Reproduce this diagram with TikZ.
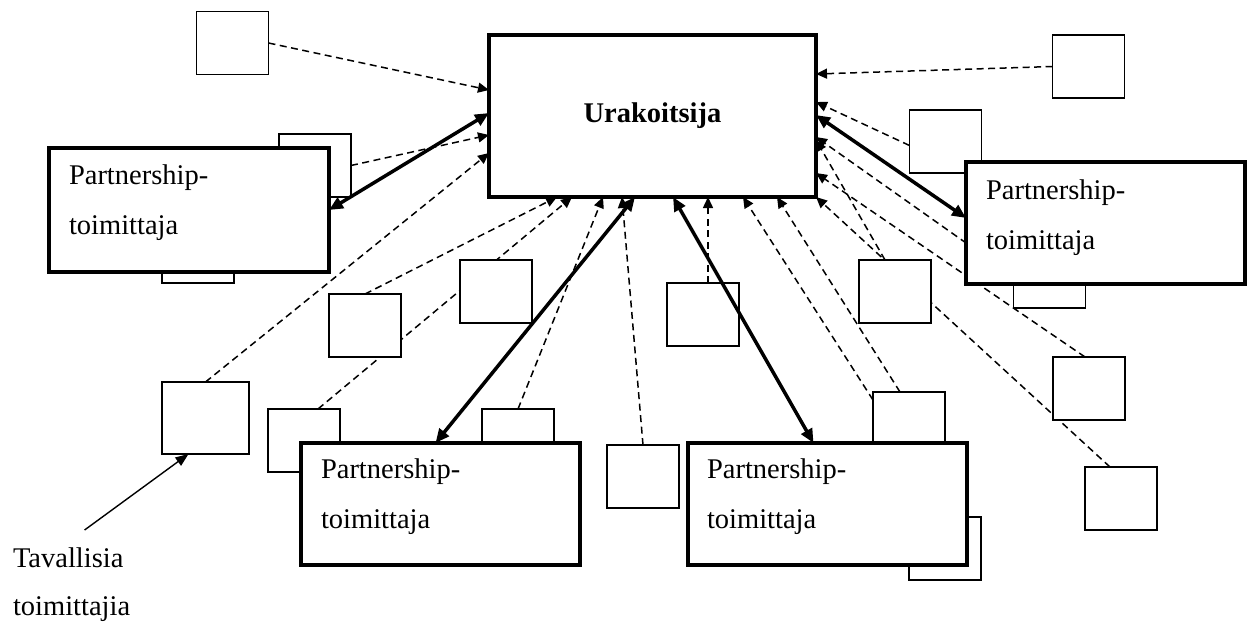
\documentclass[tikz,border=0pt]{standalone}
\usepackage{fontspec}
\setmainfont{Liberation Serif}
\usetikzlibrary{arrows.meta}
\pgfdeclarelayer{lines}
\pgfsetlayers{lines,main}
\begin{document}
\begin{tikzpicture}[x=1pt,y=-1pt,
  every node/.style={inner sep=0pt, outer sep=0pt},
  sbox/.style={draw, fill=white, line width=1.7pt, minimum width=72pt, minimum height=63pt},
  pbox/.style={draw, fill=white, line width=4.5pt, minimum width=279pt, minimum height=122pt},
  mainbox/.style={draw, fill=white, line width=4.2pt, minimum width=327pt, minimum height=162pt,
    font=\fontsize{28.5}{34}\selectfont\bfseries},
  ptext/.style={anchor=north west, align=left, font=\fontsize{28.5}{50}\selectfont},
  flow/.style={line width=1.5pt, dash pattern=on 7pt off 4.5pt, -{Triangle[length=11pt,width=10pt]}},
  link/.style={line width=3.5pt, {Triangle[length=14pt,width=12pt]}-{Triangle[length=14pt,width=12pt]}},
  note/.style={line width=1.4pt, -{Triangle[length=13pt,width=10pt]}}
]
\useasboundingbox (0,0) rectangle (1252,621);

% ordinary suppliers (small boxes)
\node[sbox] (s1)   at (232.5,43)  {};
\node[sbox] (s2)   at (315,165.5) {};
\node[sbox] (sl)   at (198,251.5) {};
\node[sbox, minimum width=87pt, minimum height=72pt] (stav) at (205.5,418) {};
\node[sbox] (s3)   at (365,325.5) {};
\node[sbox] (s4)   at (496,291.5) {};
\node[sbox] (s5)   at (304,440.5) {};
\node[sbox] (s6)   at (518,440.5) {};
\node[sbox] (s7)   at (643,476.5) {};
\node[sbox] (m1)   at (703,314.5) {};
\node[sbox] (r1)   at (1088.5,66.5) {};
\node[sbox] (r2)   at (945.5,141.5) {};
\node[sbox] (r3)   at (1049.5,276.5) {};
\node[sbox] (r4)   at (895,291.5) {};
\node[sbox] (r5)   at (1089,388.5) {};
\node[sbox] (r6)   at (1121,498.5) {};
\node[sbox] (r7)   at (909,423.5) {};
\node[sbox] (r8)   at (945,548.5) {};

% partnership suppliers
\node[pbox, minimum width=280pt, minimum height=124pt] (pl) at (189,210) {};
\node[pbox] (pr)  at (1105.5,223) {};
\node[pbox] (pbl) at (440.5,504) {};
\node[pbox] (pbr) at (827.5,504) {};
\node[ptext] (plt)  at ([shift={(20,17)}]pl.north west)  {Partnership-\\toimittaja};
\node[ptext] (prt)  at ([shift={(20,18)}]pr.north west)  {Partnership-\\toimittaja};
\node[ptext] (pblt) at ([shift={(20,16)}]pbl.north west) {Partnership-\\toimittaja};
\node[ptext] (pbrt) at ([shift={(19,16)}]pbr.north west) {Partnership-\\toimittaja};

% main contractor
\node[mainbox] (main) at (652.5,116) {Urakoitsija};

% dashed supply links, kept behind the boxes
\begin{pgfonlayer}{lines}
\draw[flow] (s1.east) -- ([yshift=-55pt]main.north west);
\draw[flow] (s2.east) -- ([yshift=-100pt]main.north west);
\draw[flow] (stav.north) -- ([yshift=-118pt]main.north west);
\draw[flow] (s3.north) -- ([xshift=68pt]main.south west);
\draw[flow] ([xshift=14pt]s5.north) -- ([xshift=83pt]main.south west);
\draw[flow] (s6.north) -- ([xshift=114pt]main.south west);
\draw[flow] (s7.north) -- ([xshift=133pt]main.south west);
\draw[flow] ([xshift=5pt]m1.north) -- ([xshift=219pt]main.south west);
\draw[flow] ([yshift=-8pt]r7.north west) -- ([xshift=254pt]main.south west);
\draw[flow] ([xshift=-9pt]r7.north) -- ([xshift=288pt]main.south west);
\draw[flow] ([xshift=-11pt]r6.north) -- (main.south east);
\draw[flow] ([xshift=-4pt]r5.north) -- ([yshift=24pt]main.south east);
\draw[flow] ([xshift=-10pt]r4.north) -- ([yshift=-105pt]main.north east);
\draw[flow] (r3.west) -- ([yshift=-102pt]main.north east);
\draw[flow] ([yshift=-4pt]r2.west) -- ([yshift=-67pt]main.north east);
\draw[flow] (r1.west) -- ([yshift=-39pt]main.north east);
\end{pgfonlayer}

% partnership links
\draw[link] (pl.east) -- ([yshift=-78pt]main.north west);
\draw[link] ([yshift=5pt]pr.west) -- ([yshift=-80pt]main.north east);
\draw[link] ([xshift=-5pt]pbl.north) -- ([xshift=146pt]main.south west);
\draw[link] ([xshift=-14pt]pbr.north) -- ([xshift=184pt]main.south west);

% legend label
\node[ptext, font=\fontsize{28.5}{48}\selectfont] (tav) at (13,548) {Tavallisia\\toimittajia};
\draw[note] ([shift={(13,-18)}]tav.north) -- ([xshift=-17pt]stav.south);
\end{tikzpicture}
\end{document}
